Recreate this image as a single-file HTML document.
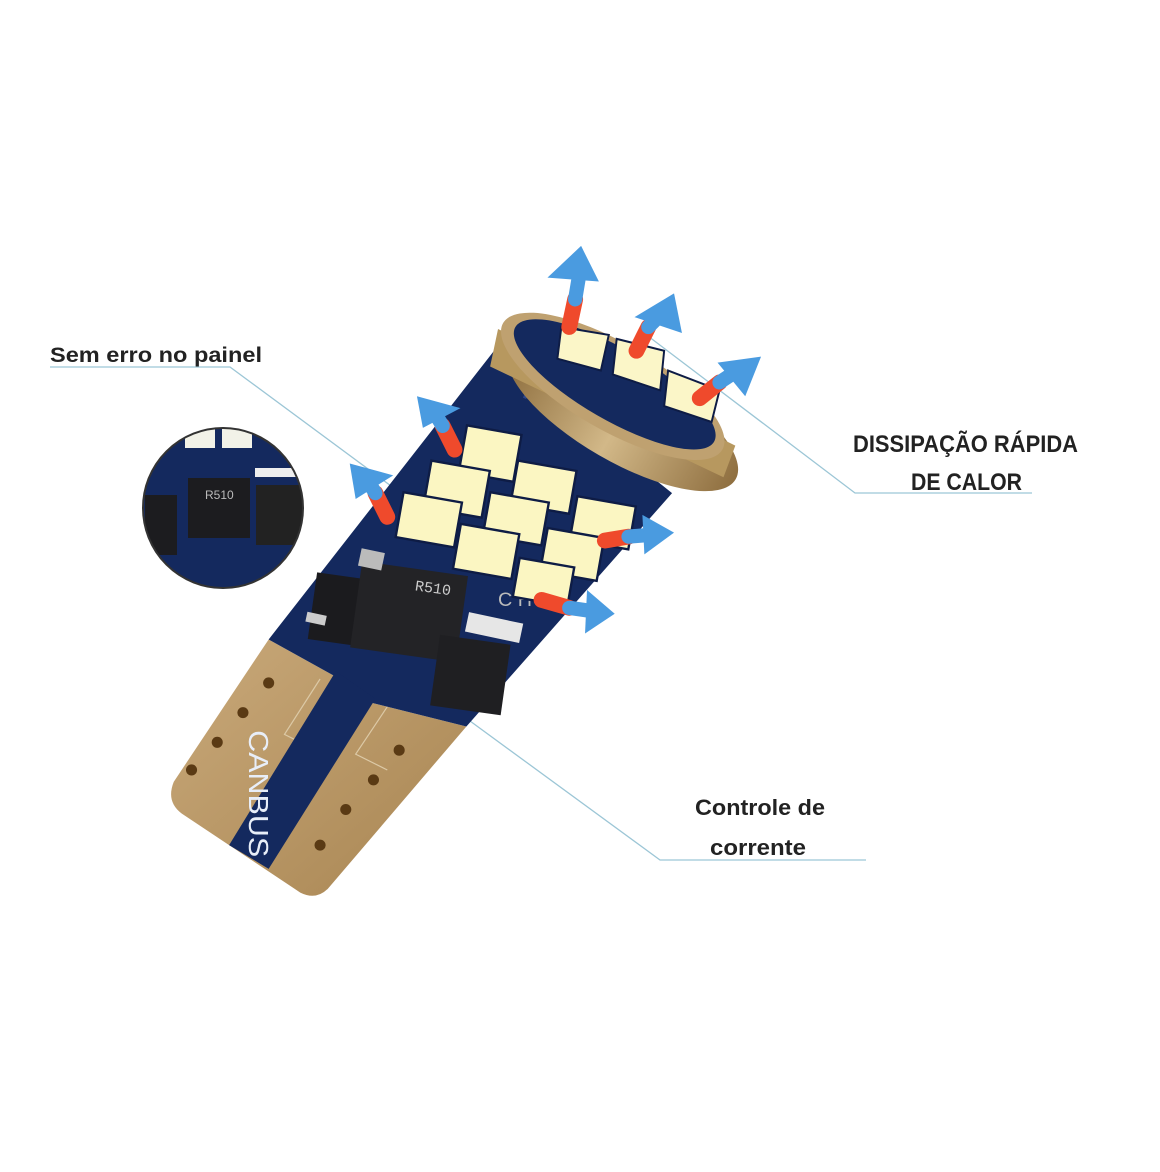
<!DOCTYPE html>
<html><head><meta charset="utf-8"><style>
html,body{margin:0;padding:0;background:#fff;}
svg{display:block}
text{font-family:"Liberation Sans Narrow","Liberation Sans",sans-serif;font-weight:bold;fill:#222}
</style></head><body>
<svg width="1160" height="1172" viewBox="0 0 1160 1172" xmlns="http://www.w3.org/2000/svg">
<defs>
<linearGradient id="gold" x1="0" y1="0" x2="1" y2="1">
<stop offset="0" stop-color="#c9a97a"/><stop offset="1" stop-color="#a88552"/></linearGradient>
<linearGradient id="rim" x1="0" y1="0" x2="1" y2="0">
<stop offset="0" stop-color="#8a6a3a"/><stop offset="0.5" stop-color="#d2b888"/><stop offset="1" stop-color="#8f6f40"/></linearGradient>
</defs>

<!-- leader lines -->
<g stroke="#9cc6d6" stroke-width="1.3" fill="none">
<polyline points="50,367 230,367 410,500"/>
<polyline points="640,330 855,493 1032,493"/>
<polyline points="455,710 660,860 866,860"/>
</g>

<g transform="translate(150,240) scale(0.3955,0.3955)">
<path d="M300,1010 L60,1370 Q40,1420 80,1450 L380,1650 Q420,1670 450,1640 L800,1230 L560,1170 L480,1110 Z" fill="url(#gold)"/>
<g fill="none" stroke="#dcc9a6" stroke-width="3">
<polyline points="430,1110 340,1250 420,1290"/>
<polyline points="600,1180 520,1300 600,1340"/>
</g>
<g fill="#5a3a14">
<circle cx="300" cy="1120" r="14"/><circle cx="235" cy="1195" r="14"/><circle cx="170" cy="1270" r="14"/><circle cx="105" cy="1340" r="14"/>
<circle cx="630" cy="1290" r="14"/><circle cx="565" cy="1365" r="14"/><circle cx="495" cy="1440" r="14"/><circle cx="430" cy="1530" r="14"/>
</g>
<path d="M300,1010 L870,280 L1320,640 L800,1230 L560,1170 L480,1110 Z" fill="#14295e"/>
<path d="M470,1090 L570,1160 L300,1590 L200,1530 Z" fill="#14295e"/>
<text x="0" y="0" transform="translate(250,1400) rotate(90) scale(1.1,1)" style="fill:#e8eef8;font-family:'Liberation Sans',sans-serif;font-weight:normal" font-size="70" text-anchor="middle">CANBUS</text>

<rect x="410" y="850" width="150" height="170" fill="#1b1b1e" transform="rotate(8 485 935)"/>
<rect x="520" y="830" width="270" height="220" fill="#232326" transform="rotate(8 655 940)"/>
<rect x="720" y="1010" width="180" height="180" fill="#1f1f22" transform="rotate(8 810 1100)"/>
<rect x="800" y="955" width="140" height="50" fill="#e6e6e6" transform="rotate(12 870 980)"/>
<rect x="395" y="945" width="50" height="25" fill="#ccc" transform="rotate(12 420 957)"/>
<rect x="530" y="785" width="60" height="45" fill="#bbb" transform="rotate(12 560 807)"/>
<text x="670" y="890" font-size="38" style="fill:#ccc;font-weight:normal;font-family:'Liberation Mono',monospace" transform="rotate(8 700 880)">R510</text>
<text x="880" y="925" font-size="50" style="fill:#bbb;font-weight:normal">C H</text>
<text x="900" y="450" font-size="60" style="fill:#2c4588" transform="rotate(23 1050 520)">KITLEDS</text>

<g fill="#fbf6c2" stroke="#0e1c45" stroke-width="6">
<rect x="790" y="480" width="140" height="120" transform="rotate(10 860 540)"/>
<rect x="700" y="570" width="150" height="120" transform="rotate(10 775 630)"/>
<rect x="630" y="650" width="150" height="115" transform="rotate(10 705 707)"/>
<rect x="920" y="570" width="150" height="110" transform="rotate(10 995 625)"/>
<rect x="850" y="650" width="150" height="110" transform="rotate(10 925 705)"/>
<rect x="775" y="730" width="150" height="115" transform="rotate(10 850 787)"/>
<rect x="1070" y="660" width="150" height="110" transform="rotate(10 1145 715)"/>
<rect x="995" y="740" width="145" height="110" transform="rotate(10 1067 795)"/>
<rect x="925" y="815" width="140" height="100" transform="rotate(10 995 865)"/>
</g>

<ellipse cx="1195" cy="440" rx="330" ry="120" transform="rotate(30 1195 440)" fill="url(#rim)"/>
<path d="M880,225 L1480,520 L1450,600 L860,320 Z" fill="#b7985f"/>
<ellipse cx="1170" cy="370" rx="320" ry="110" transform="rotate(30 1170 370)" fill="#bfa170"/>
<ellipse cx="1175" cy="365" rx="290" ry="90" transform="rotate(30 1175 365)" fill="#14295e"/>
<g fill="#fbf6c8" stroke="#0e1c45" stroke-width="5">
<polygon points="1040,220 1160,240 1140,330 1030,300"/>
<polygon points="1180,250 1300,280 1290,380 1170,340"/>
<polygon points="1310,330 1440,380 1420,460 1300,420"/>
</g>

<g fill="none" stroke-linecap="round">
<g stroke="#ef4a2c" stroke-width="40">
<line x1="1060" y1="220" x2="1075" y2="150"/>
<line x1="1230" y1="280" x2="1260" y2="220"/>
<line x1="1390" y1="400" x2="1440" y2="360"/>
<line x1="770" y1="530" x2="740" y2="470"/>
<line x1="600" y1="700" x2="570" y2="640"/>
<line x1="1150" y1="760" x2="1210" y2="750"/>
<line x1="990" y1="910" x2="1060" y2="930"/>
</g>
<g stroke="#4a9be0" stroke-width="36">
<line x1="1075" y1="150" x2="1085" y2="90"/>
<line x1="1260" y1="220" x2="1295" y2="185"/>
<line x1="1440" y1="360" x2="1485" y2="330"/>
<line x1="740" y1="470" x2="715" y2="430"/>
<line x1="570" y1="640" x2="545" y2="600"/>
<line x1="1210" y1="750" x2="1270" y2="745"/>
<line x1="1060" y1="930" x2="1130" y2="940"/>
</g>
</g>
<g fill="#4a9be0">
<polygon points="1005,95 1090,15 1135,105"/>
<polygon points="1225,195 1325,135 1345,235"/>
<polygon points="1435,310 1545,295 1505,395"/>
<polygon points="675,395 785,425 690,475"/>
<polygon points="505,565 615,595 520,655"/>
<polygon points="1245,695 1325,740 1250,795"/>
<polygon points="1105,885 1175,945 1100,995"/>
</g>
</g>

<!-- inset circle -->
<g>
<clipPath id="c"><circle cx="223" cy="508" r="80"/></clipPath>
<circle cx="223" cy="508" r="80" fill="#14295e"/>
<g clip-path="url(#c)">
<rect x="185" y="428" width="30" height="20" fill="#f2f2e8"/>
<rect x="222" y="428" width="30" height="20" fill="#f2f2e8"/>
<rect x="145" y="495" width="32" height="60" fill="#1c1c1f"/>
<rect x="188" y="478" width="62" height="60" fill="#1c1c1f"/>
<rect x="256" y="485" width="50" height="60" fill="#222"/>
<rect x="255" y="468" width="45" height="9" fill="#eee"/>
<text x="205" y="499" font-size="12" style="fill:#bbb;font-weight:normal">R510</text>
</g>
<circle cx="223" cy="508" r="80" fill="none" stroke="#333" stroke-width="2"/>
</g>

<text x="50" y="362" font-size="21" textLength="212" lengthAdjust="spacingAndGlyphs">Sem erro no painel</text>
<text x="853" y="452" font-size="24" textLength="225" lengthAdjust="spacingAndGlyphs">DISSIPAÇÃO RÁPIDA</text>
<text x="911" y="490" font-size="24" textLength="111" lengthAdjust="spacingAndGlyphs">DE CALOR</text>
<text x="695" y="815" font-size="22" textLength="130" lengthAdjust="spacingAndGlyphs">Controle de</text>
<text x="710" y="855" font-size="22" textLength="96" lengthAdjust="spacingAndGlyphs">corrente</text>
</svg>
</body></html>
